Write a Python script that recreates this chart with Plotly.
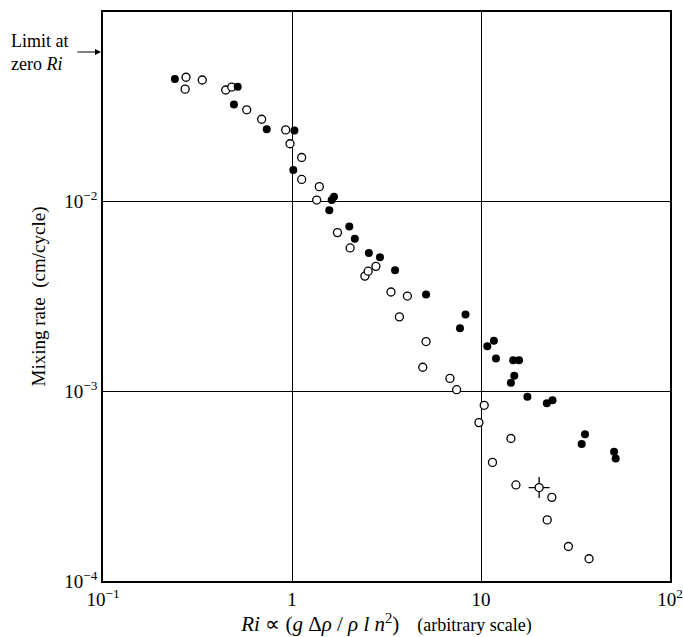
import plotly.graph_objects as go

# Filled circles
filled_x = [0.240, 0.516, 0.493, 0.735, 1.03, 1.016, 1.668, 1.622, 1.575, 2.01, 2.15,
            2.55, 2.92, 3.51, 5.12, 8.28, 7.74, 10.8, 11.7, 12.0, 14.8, 15.9, 15.0,
            14.4, 17.6, 22.3, 23.9, 35.5, 34.1, 50.6, 51.6]
filled_y = [0.0443, 0.0404, 0.0325, 0.0241, 0.0237, 0.0147, 0.0106, 0.0102, 0.0090,
            0.00739, 0.00637, 0.00537, 0.00509, 0.00435, 0.00324, 0.00254, 0.00215,
            0.00173, 0.00185, 0.00149, 0.00146, 0.00146, 0.00121, 0.00111, 0.000937,
            0.000864, 0.000897, 0.000594, 0.000527, 0.000480, 0.000442]

# Open circles
open_x = [0.275, 0.272, 0.335, 0.446, 0.480, 0.576, 0.691, 0.926, 0.976, 1.125, 1.125,
          1.395, 1.351, 1.74, 2.03, 2.43, 2.53, 2.78, 3.34, 4.08, 3.70, 5.12, 4.92,
          6.85, 7.43, 10.4, 9.75, 14.4, 11.5, 15.3, 23.7, 22.4, 29.0, 37.3]
open_y = [0.0453, 0.0392, 0.0438, 0.0388, 0.0402, 0.0305, 0.0272, 0.0239, 0.0202,
          0.0171, 0.0131, 0.0120, 0.0102, 0.00687, 0.00570, 0.00405, 0.00430, 0.00456,
          0.00334, 0.00318, 0.00247, 0.00183, 0.00134, 0.00117, 0.00102, 0.000844,
          0.000684, 0.000564, 0.000422, 0.000321, 0.000276, 0.000210, 0.000152, 0.000131]

# Special marked point
special_x = [20.3]
special_y = [0.000311]

x_tickvals = [0.1, 1, 10, 100]
x_ticktext = ["10<sup>−1</sup>", "1", "10", "10<sup>2</sup>"]
y_tickvals = [1e-4, 1e-3, 1e-2, 1e-1]
y_ticktext = ["10<sup>−4</sup>", "10<sup>−3</sup>", "10<sup>−2</sup>", "10<sup>−1</sup>"]

font_family = "Liberation Serif, Times New Roman, serif"

fig = go.Figure()
fig.add_trace(go.Scatter(x=open_x, y=open_y, mode="markers",
                         marker=dict(symbol="circle", size=8, color="white",
                                     line=dict(color="black", width=1.3)),
                         showlegend=False))
fig.add_trace(go.Scatter(x=filled_x, y=filled_y, mode="markers",
                         marker=dict(symbol="circle", size=8, color="black",
                                     line=dict(color="black", width=0)),
                         showlegend=False))
fig.add_trace(go.Scatter(x=special_x, y=special_y, mode="markers",
                         marker=dict(symbol="cross-thin-open", size=15, color="black",
                                     line=dict(color="black", width=1.3)),
                         showlegend=False))
fig.add_trace(go.Scatter(x=special_x, y=special_y, mode="markers",
                         marker=dict(symbol="circle", size=8, color="white",
                                     line=dict(color="black", width=1.3)),
                         showlegend=False))

x_title = ('<span style="font-size:21px"><i>Ri</i> ∝ (<i>g</i> Δ<i>ρ</i> / <i>ρ l n</i>'
           '<sup>2</sup>)</span>    (arbitrary scale)')

fig.update_layout(
    width=683, height=637,
    margin=dict(l=103, r=13, t=12, b=56),
    paper_bgcolor="white", plot_bgcolor="white",
    font=dict(family=font_family, size=19, color="black"),
    xaxis=dict(type="log", range=[-1, 2], tickvals=x_tickvals, ticktext=x_ticktext,
               showgrid=True, gridcolor="black", gridwidth=1.3,
               showline=True, linecolor="black", linewidth=1.5, mirror=True,
               ticks="", zeroline=False, automargin=False,
               tickfont=dict(size=19),
               title=dict(text=x_title, standoff=5, font=dict(size=18))),
    yaxis=dict(type="log", range=[-4, -1], tickvals=y_tickvals, ticktext=y_ticktext,
               showgrid=True, gridcolor="black", gridwidth=1.3,
               showline=True, linecolor="black", linewidth=1.5, mirror=True,
               ticks="", zeroline=False, automargin=False,
               tickfont=dict(size=19),
               title=dict(text="Mixing rate  (cm/cycle)", standoff=14,
                          font=dict(size=19))),
)

fig.add_annotation(x=0, xref="paper", y=-1.211, yref="y",
                   text="", showarrow=True, arrowhead=2, arrowsize=1, arrowwidth=1.2,
                   arrowcolor="black", ax=-27, ay=0, standoff=2)
fig.add_annotation(x=-0.165, xref="paper", y=-1.215, yref="y",
                   text="Limit at<br>zero <i>Ri</i>", showarrow=False,
                   xanchor="left", yanchor="middle", align="left",
                   font=dict(size=18))

fig.write_html("out.html")
